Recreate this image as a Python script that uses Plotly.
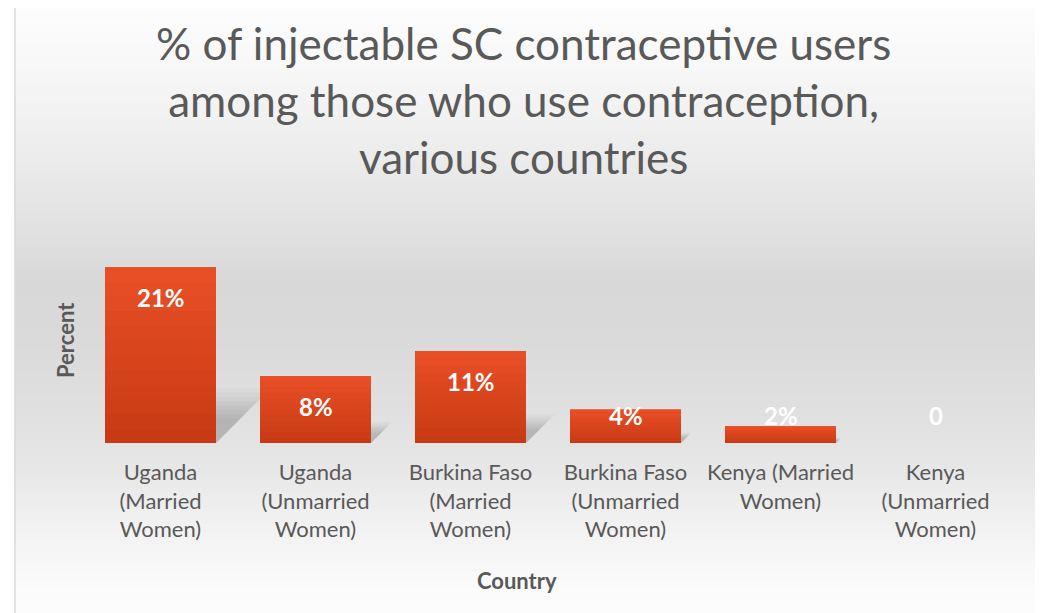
import plotly.graph_objects as go

categories = ["Uganda (Married Women)", "Uganda (Unmarried Women)",
              "Burkina Faso (Married Women)", "Burkina Faso (Unmarried Women)",
              "Kenya (Married Women)", "Kenya (Unmarried Women)"]
tick_labels = ["Uganda<br>(Married<br>Women)", "Uganda<br>(Unmarried<br>Women)",
               "Burkina Faso<br>(Married<br>Women)", "Burkina Faso<br>(Unmarried<br>Women)",
               "Kenya (Married<br>Women)", "Kenya<br>(Unmarried<br>Women)"]
values = [21, 8, 11, 4, 2, 0]
value_labels = ["21%", "8%", "11%", "4%", "2%", "0"]

# page body has an 8px margin; work in reference pixel coords and convert
O = 8
W, H = 1043 - O, 613 - O
PX0, PX1, PY0, PY1 = 83, 1013, 259, 443  # plot area in reference pixels
L, R, T, B = PX0 - O, W - (PX1 - O), PY0 - O, H - (PY1 - O)
YMAX = 22
pw, ph = PX1 - PX0, PY1 - PY0
PPU = ph / YMAX  # pixels per percent
CAT_PX = pw / len(categories)


def fx(p):
    return (p - PX0) / pw


def fy(p):
    return (PY1 - p) / ph


fig = go.Figure()
fig.add_trace(go.Bar(x=categories, y=values, marker=dict(color="#D9441F", line=dict(width=0)),
                     width=0.716, hoverinfo="skip"))

shapes = []
# background gradient (vertical)
stops = [(4, 253), (60, 248), (140, 238), (220, 226), (280, 216), (340, 218),
         (400, 223), (460, 230), (520, 241), (580, 250), (620, 253)]
step = 4
p = 4
while p < 620:
    for i in range(len(stops) - 1):
        if stops[i][0] <= p <= stops[i + 1][0]:
            a, b = stops[i], stops[i + 1]
            v = a[1] + (b[1] - a[1]) * (p - a[0]) / (b[0] - a[0])
            break
    c = int(round(v))
    shapes.append(dict(type="rect", xref="paper", yref="paper", layer="below",
                       x0=fx(15), x1=fx(1041), y0=fy(p), y1=fy(p + step),
                       fillcolor=f"rgb({c},{c},{c})", line=dict(width=0)))
    p += step

# soft perspective shadows behind bars
half = 0.716 / 2
layers = [(1.25, 0.025), (1.15, 0.03), (1.05, 0.035), (0.95, 0.04),
          (0.85, 0.04), (0.75, 0.04), (0.65, 0.04), (0.55, 0.03)]
for i, v in enumerate(values):
    if v <= 0:
        continue
    for scale, op in layers:
        dy = 0.25 * v * scale
        dx = dy * PPU / CAT_PX
        x0, x1 = i - half, i + half
        path = f"M {x0},0 L {x1},0 L {x1 + dx},{dy} L {x0 + dx},{dy} Z"
        shapes.append(dict(type="path", xref="x", yref="y", layer="below", path=path,
                           fillcolor=f"rgba(60,60,60,{op})", line=dict(width=0)))

# vertical colour gradient on each bar
top_c, bot_c = (232, 79, 38), (200, 58, 20)
n = 12
for i, v in enumerate(values):
    if v <= 0:
        continue
    for k in range(n):
        t = k / (n - 1)
        col = tuple(int(round(bot_c[j] + (top_c[j] - bot_c[j]) * t)) for j in range(3))
        shapes.append(dict(type="rect", xref="x", yref="y", layer="above",
                           x0=i - half, x1=i + half, y0=v * k / n, y1=v * (k + 1) / n,
                           fillcolor=f"rgb{col}", line=dict(width=0)))

shapes.append(dict(type="rect", xref="paper", yref="paper", layer="above",
                   x0=fx(15), x1=fx(1041), y0=fy(4), y1=fy(625),
                   fillcolor="rgba(0,0,0,0)", line=dict(color="#d9d9d9", width=1.5)))

annotations = []
for cat, v, lab in zip(categories, values, value_labels):
    ypos = max(v - 30 / PPU, 28 / PPU)
    annotations.append(dict(x=cat, y=ypos, text=f"<b>{lab}</b>", showarrow=False,
                            xref="x", yref="y", yanchor="middle", xanchor="center",
                            font=dict(family="Lato", size=24, color="white")))
annotations.append(dict(x=fx(523), y=fy(100), xref="paper", yref="paper", showarrow=False,
                        yanchor="middle", xanchor="center",
                        text="% of injectable SC contraceptive users<br>among those who use contraception,<br>various countries",
                        font=dict(family="Lato", size=44, color="#595959")))
annotations.append(dict(x=fx(517), y=fy(580), xref="paper", yref="paper", showarrow=False,
                        yanchor="middle", xanchor="center",
                        text="<b>Country</b>", font=dict(family="Lato", size=22, color="#595959")))
annotations.append(dict(x=fx(65), y=fy(340), xref="paper", yref="paper", showarrow=False,
                        yanchor="middle", xanchor="center",
                        text="<b>Percent</b>", textangle=-90,
                        font=dict(family="Lato", size=22, color="#595959")))

fig.update_layout(
    width=W, height=H,
    margin=dict(l=L, r=R, t=T, b=B),
    paper_bgcolor="white", plot_bgcolor="rgba(0,0,0,0)",
    xaxis=dict(tickmode="array", tickvals=categories, ticktext=tick_labels,
               tickfont=dict(family="Lato", size=22, color="#595959"), ticklabelstandoff=14,
               showgrid=False, zeroline=False, showline=False, ticks="", range=[-0.5, 5.5]),
    yaxis=dict(range=[0, YMAX], visible=False, showgrid=False, zeroline=False),
    shapes=shapes, annotations=annotations, showlegend=False, bargap=0.284,
)

fig.write_html("out.html")
